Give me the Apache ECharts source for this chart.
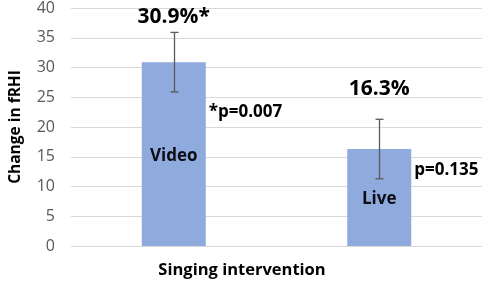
<!DOCTYPE html>
<html>
<head>
<meta charset="utf-8">
<script src="https://cdn.jsdelivr.net/npm/echarts@6/dist/echarts.min.js"></script>
<style>
  html, body { margin: 0; padding: 0; background: #fff; }
  #chart { width: 484px; height: 286px; }
</style>
</head>
<body>
<div id="chart"></div>
<script>
// values
const categories = ['Video', 'Live']
const changes    = [30.9, 16.3]
const errLow     = [25.9, 11.3]
const errHigh    = [35.9, 21.3]
const pctLabels  = ['30.9%*', '16.3%']
const pLabels    = ['*p=0.007', 'p=0.135']

// where the annotations sit (value units)
const pctAt = [38.5, 26.4]
const pAt   = [22.5, 12.8]

const FONT = '"Open Sans", Lato, sans-serif'
const GREY = '#595959'

const chart = echarts.init(document.getElementById('chart'))

chart.setOption({
  animation: false,
  backgroundColor: '#fff',
  textStyle: { fontFamily: FONT },
  grid: { left: 68, right: 2, top: 8, bottom: 40 },
  xAxis: {
    type: 'category',
    data: categories,
    axisLine: { show: false },
    axisTick: { show: false },
    axisLabel: { show: false },
  },
  yAxis: {
    type: 'value',
    min: 0, max: 40, interval: 5,
    axisLine: { show: false },
    axisTick: { show: false },
    axisLabel: { color: GREY, fontSize: 16, margin: 16, fontFamily: FONT },
    splitLine: { lineStyle: { color: '#d9d9d9', width: 1 } },
    name: 'Change in fRHI',
    nameLocation: 'middle',
    nameGap: 47,
    nameTextStyle: { color: '#000', fontSize: 15.5, fontWeight: 'bold', fontFamily: FONT },
  },
  graphic: [{
    type: 'text', left: 'center', top: 262,
    style: { text: 'Singing intervention', fill: '#000', font: 'bold 16.5px ' + FONT },
  }],
  series: [
    {
      type: 'bar',
      data: changes,
      barWidth: 64,
      itemStyle: { color: '#8faadc' },
      label: {
        show: true, position: 'inside', offset: [0, 2],
        formatter: (p) => categories[p.dataIndex],
        color: '#0d0d14', fontSize: 17, fontWeight: 'bold', fontFamily: FONT,
      },
      z: 2,
    },
    {
      type: 'custom',
      data: categories.map((c, i) => [i, errLow[i], errHigh[i]]),
      renderItem: (params, api) => {
        const lo = api.coord([api.value(0), api.value(1)])
        const hi = api.coord([api.value(0), api.value(2)])
        const x = Math.round(lo[0]) + 0.5
        const w = 4
        const st = { stroke: GREY, lineWidth: 1.3 }
        return {
          type: 'group',
          children: [
            { type: 'line', shape: { x1: x, y1: lo[1], x2: x, y2: hi[1] }, style: st },
            { type: 'line', shape: { x1: x - w, y1: lo[1], x2: x + w, y2: lo[1] }, style: st },
            { type: 'line', shape: { x1: x - w, y1: hi[1], x2: x + w, y2: hi[1] }, style: st },
          ],
        }
      },
      z: 3,
    },
    {
      type: 'custom',
      data: categories.map((c, i) => [i, pctAt[i], pAt[i]]),
      renderItem: (params, api) => {
        const i = params.dataIndex
        const top = api.coord([api.value(0), api.value(1)])
        const side = api.coord([api.value(0), api.value(2)])
        const half = 32
        return {
          type: 'group',
          children: [
            { type: 'text', x: top[0], y: top[1],
              style: { text: pctLabels[i], fill: '#000', font: 'bold 21px ' + FONT,
                       textAlign: 'center', textVerticalAlign: 'middle' } },
            { type: 'text', x: side[0] + half + 3, y: side[1],
              style: { text: pLabels[i], fill: '#000', font: 'bold 17px ' + FONT,
                       textAlign: 'left', textVerticalAlign: 'middle' } },
          ],
        }
      },
      z: 4,
    },
  ],
})
</script>
</body>
</html>
